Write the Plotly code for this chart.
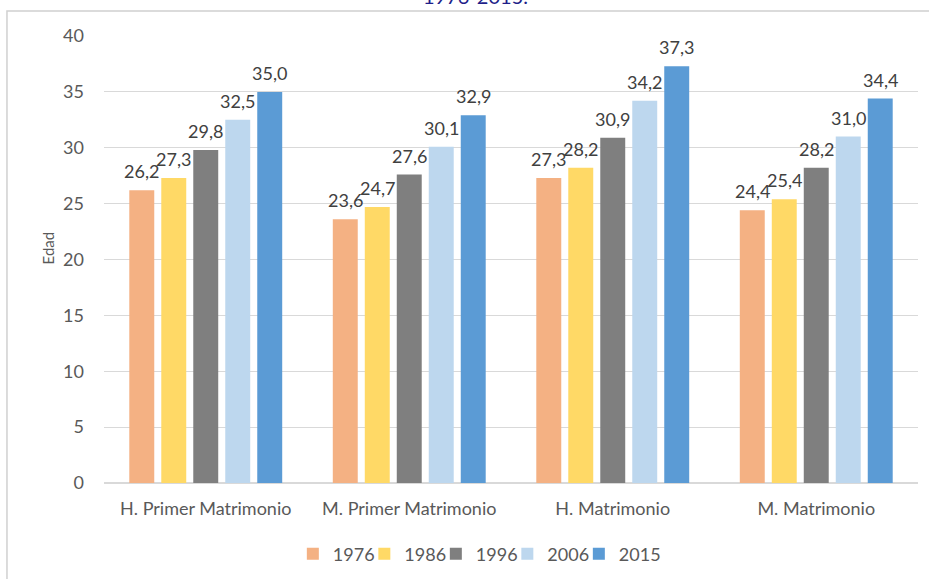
import plotly.graph_objects as go

# categorias y valores (edad media)
categorias = ["H. Primer Matrimonio", "M. Primer Matrimonio", "H. Matrimonio", "M. Matrimonio"]
anios = ["1976", "1986", "1996", "2006", "2015"]
v1976 = [26.2, 23.6, 27.3, 24.4]
v1986 = [27.3, 24.7, 28.2, 25.4]
v1996 = [29.8, 27.6, 30.9, 28.2]
v2006 = [32.5, 30.1, 34.2, 31.0]
v2015 = [35.0, 32.9, 37.3, 34.4]

series = [v1976, v1986, v1996, v2006, v2015]
colores = ["#F4B183", "#FFD966", "#7F7F7F", "#BDD7EE", "#5B9BD5"]

FONT = "Lato"
W, H = 929, 579
ML, MR, MT, MB = 104, 11, 36, 96
BARGAP = 0.214

fig = go.Figure()
for anio, vals, col in zip(anios, series, colores):
    fig.add_trace(go.Bar(
        x=categorias,
        y=vals,
        name=anio,
        marker=dict(color=col, line=dict(width=0)),
    ))

# entrada vacia para que la leyenda no corte "2015"
fig.add_trace(go.Scatter(
    x=[None], y=[None], name="", mode="markers",
    marker=dict(color="rgba(0,0,0,0)", size=1, line=dict(width=0)),
    hoverinfo="skip",
))

# etiquetas de datos (un poco separadas de la barra, como en Excel)
slot = (W - ML - MR) / len(categorias) * (1 - BARGAP) / len(anios)
for i, vals in enumerate(series):
    for cat, v in zip(categorias, vals):
        fig.add_annotation(
            x=cat, y=v, xref="x", yref="y",
            text=f"{v:.1f}".replace(".", ","),
            showarrow=False, yanchor="bottom",
            xshift=(i - 2) * slot, yshift=6,
            font=dict(family=FONT, size=18, color="#404040"),
        )

fig.update_layout(
    width=W,
    height=H,
    margin=dict(l=ML, r=MR, t=MT, b=MB, autoexpand=False),
    paper_bgcolor="white",
    plot_bgcolor="white",
    barmode="group",
    bargap=BARGAP,
    bargroupgap=0.22,
    font=dict(family=FONT, size=18, color="#595959"),
    legend=dict(
        orientation="h",
        x=0.4955,
        xanchor="center",
        y=-0.159,
        yanchor="middle",
        entrywidth=26.5,
        font=dict(family=FONT, size=18, color="#595959"),
        traceorder="normal",
    ),
    showlegend=True,
)

fig.update_yaxes(
    range=[0, 40],
    dtick=5,
    showgrid=True,
    gridcolor="#D9D9D9",
    gridwidth=1,
    zeroline=True,
    zerolinecolor="#D9D9D9",
    showline=False,
    ticks="",
    ticklabelstandoff=19,
    tickfont=dict(family=FONT, size=18, color="#595959"),
)
fig.update_xaxes(
    showline=True,
    linecolor="#D9D9D9",
    ticks="",
    ticklabelstandoff=9,
    tickfont=dict(family=FONT, size=18, color="#595959"),
)

# eje y: titulo
fig.add_annotation(
    text="Edad", xref="paper", yref="paper", x=-0.0688, y=0.527,
    xanchor="center", yanchor="middle",
    textangle=-90, showarrow=False,
    font=dict(family=FONT, size=15, color="#595959"),
)

# titulo cortado arriba
fig.add_annotation(
    text="1976-2015.", xref="paper", yref="paper", x=0.457, y=1.058,
    xanchor="center", yanchor="bottom", showarrow=False,
    font=dict(family=FONT, size=20, color="#1F1F8A"),
)

# marco del grafico
fig.add_shape(
    type="rect", xref="paper", yref="paper",
    x0=-0.1192, y0=-0.4, x1=1.1, y1=1.0559,
    line=dict(color="#D0D0D0", width=1.5), fillcolor="rgba(0,0,0,0)",
    layer="below",
)

fig.write_html(
    "out.html",
    config={"displayModeBar": False},
    post_script="document.body.style.margin='0';",
)
